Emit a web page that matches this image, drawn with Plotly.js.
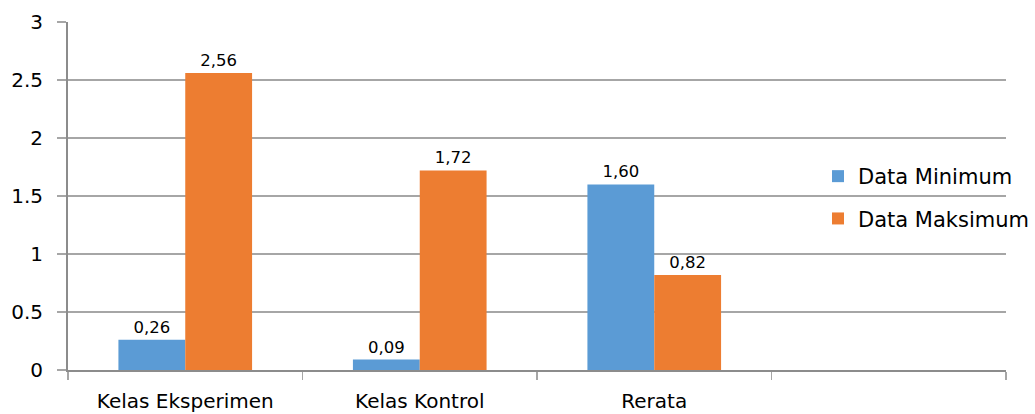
<!DOCTYPE html>
<html>
<head>
<meta charset="utf-8">
<script src="https://cdn.plot.ly/plotly-3.0.1.min.js"></script>
<style>html,body{margin:0;padding:0;background:#fff;}#chart{width:1035px;height:414px;}</style>
</head>
<body>
<div id="chart"></div>
<script>
const categories = ["Kelas Eksperimen", "Kelas Kontrol", "Rerata"];
const axisCategories = ["Kelas Eksperimen", "Kelas Kontrol", "Rerata", " "];
const dataMinimum = [0.26, 0.09, 1.60];
const dataMaksimum = [2.56, 1.72, 0.82];
const yTickVals = [0, 0.5, 1, 1.5, 2, 2.5, 3];
const yTickText = ["0", "0.5", "1", "1.5", "2", "2.5", "3"];

const fmt = v => v.toFixed(2).replace('.', ',');
const FONT = '"DejaVu Sans", sans-serif';

const traces = [
  {
    type: 'bar', name: 'Data Minimum', x: categories, y: dataMinimum,
    marker: {color: '#5B9BD5'},
    text: dataMinimum.map(fmt), textposition: 'outside', cliponaxis: false,
    textfont: {family: FONT, size: 16.5, color: '#000'},
    legendgroup: 'a', hoverinfo: 'none'
  },
  {
    type: 'bar', name: 'Data Maksimum', x: categories, y: dataMaksimum,
    marker: {color: '#ED7D31'},
    text: dataMaksimum.map(fmt), textposition: 'outside', cliponaxis: false,
    textfont: {family: FONT, size: 16.5, color: '#000'},
    legendgroup: 'b', hoverinfo: 'none'
  }
];

const layout = {
  width: 1035, height: 414,
  margin: {l: 68, r: 29, t: 22, b: 44, autoexpand: false},
  paper_bgcolor: '#fff', plot_bgcolor: '#fff',
  font: {family: FONT, color: '#000'},
  barmode: 'group', bargap: 0.43, bargroupgap: 0,
  showlegend: true,
  legend: {
    x: 0.7996, y: 0.4957, xanchor: 'left', yanchor: 'middle',
    bgcolor: 'rgba(0,0,0,0)', font: {family: FONT, size: 21, color: '#000'},
    traceorder: 'grouped', tracegroupgap: 12, itemwidth: 30
  },
  xaxis: {
    type: 'category', categoryorder: 'array', categoryarray: axisCategories,
    range: [-0.5, 3.5], fixedrange: true,
    showline: true, linecolor: '#8c8c8c', linewidth: 2,
    ticks: 'outside', tickson: 'boundaries', ticklen: 8, tickcolor: '#a6a6a6', tickwidth: 1.5,
    tickfont: {family: FONT, size: 20, color: '#000'},
    ticklabelstandoff: 12,
    showgrid: false, zeroline: false
  },
  yaxis: {
    range: [0, 3], fixedrange: true,
    tickmode: 'array', tickvals: yTickVals, ticktext: yTickText,
    showline: true, linecolor: '#8c8c8c', linewidth: 2,
    ticks: 'outside', ticklen: 9, tickcolor: '#a6a6a6', tickwidth: 1.5,
    showgrid: true, gridcolor: '#a6a6a6', gridwidth: 1.5,
    zeroline: false,
    tickfont: {family: FONT, size: 20, color: '#000'},
    ticklabelstandoff: 10
  }
};

Plotly.newPlot('chart', traces, layout, {displayModeBar: false, staticPlot: true});
</script>
</body>
</html>
